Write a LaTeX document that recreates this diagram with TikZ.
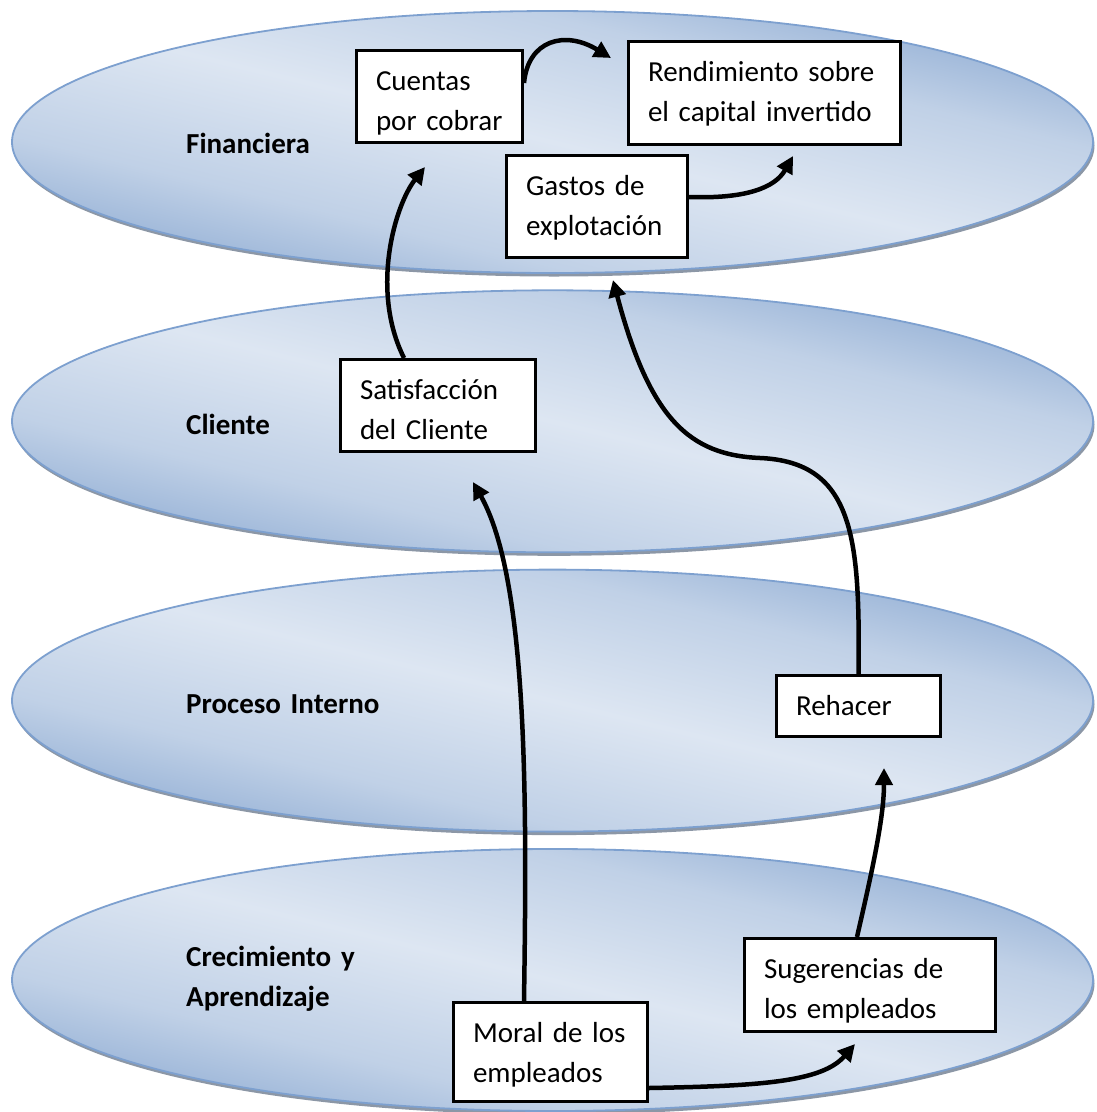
\documentclass[tikz,border=0pt]{standalone}
\usepackage{fontspec}
\setmainfont{Carlito}
\usetikzlibrary{arrows.meta,calc}

\definecolor{ellDark}{RGB}{163,187,219}
\definecolor{ellLight}{RGB}{221,230,242}
\definecolor{ellEdge}{RGB}{125,160,207}
\definecolor{ellShadow}{RGB}{140,151,166}
\colorlet{ellMid}{ellDark!50!ellLight}

% dark - light - dark band used to fill the four perspective layers
\pgfdeclareverticalshading{layerband}{100bp}{%
  color(0bp)=(ellDark); color(25bp)=(ellDark); color(33bp)=(ellMid);
  color(50bp)=(ellLight); color(67bp)=(ellMid);
  color(75bp)=(ellDark); color(100bp)=(ellDark)}

\begin{document}
\begin{tikzpicture}[x=1pt,y=-1pt,
  every node/.style={font=\fontsize{29}{40.5}\selectfont},
  layershadow/.style={fill=ellShadow},
  layeredge/.style={draw=ellEdge, line width=1.8pt},
  box/.style={draw=black, line width=3pt, fill=white, inner xsep=19.5pt,
    inner ysep=0pt, align=left, text height=39.5pt},
  lab/.style={font=\fontsize{29}{40.5}\selectfont\bfseries, anchor=base west,
    inner sep=0pt, align=left, text width=260pt},
  link/.style={line width=4.5pt, -{Triangle[length=17pt,width=17pt]}}
]
\useasboundingbox (0,0) rectangle (1096,1112);

% the four perspective layers: shadow, diagonal band fill, rim
\foreach \n/\cy in {fin/142, cli/421.3, pro/700.6, cre/980}{
  \coordinate (\n) at (552.5,\cy);
  \fill[layershadow] ($(\n)+(1.5,3.5)$) ellipse [x radius=540.5pt, y radius=131pt];
  \begin{scope}
    \clip (\n) ellipse [x radius=540.5pt, y radius=131pt];
    \begin{scope}[transform canvas={shift={(\n)}, xscale=540.5, yscale=131}]
      \shade[shading=layerband, shading angle=-45] (-1,-1) rectangle (1,1);
    \end{scope}
  \end{scope}
  \path[layeredge] (\n) ellipse [x radius=540.5pt, y radius=131pt];
}

% layer titles
\node[lab] (lfin) at (186,153) {Financiera};
\node[lab] (lcli) at (186,434) {Cliente};
\node[lab] (lpro) at (186,713) {Proceso Interno};
\node[lab] (lcre) at (186,966) {Crecimiento y\\Aprendizaje};

% indicators
\node[box, minimum width=166pt, text width=127pt, text depth=52.5pt] (cuentas) at (439.5,96.5) {Cuentas\\por cobrar};
\node[box, minimum width=272pt, text width=233pt, text depth=63.5pt] (rend) at (764.5,93) {Rendimiento sobre\\el capital invertido};
\node[box, minimum width=181pt, text width=142pt, text depth=62.5pt] (gastos) at (597,206.5) {Gastos de\\explotación};
\node[box, minimum width=195pt, text width=156pt, text depth=52.5pt] (satisf) at (438,405.5) {Satisfacción\\del Cliente};
\node[box, minimum width=164pt, text width=125pt, text depth=21.5pt] (rehacer) at (858.5,706) {Rehacer};
\node[box, minimum width=251pt, text width=212pt, text depth=53.5pt] (suger) at (870,985) {Sugerencias de\\los empleados};
\node[box, minimum width=194pt, text width=155pt, text depth=59.5pt] (moral) at (550.5,1052) {Moral de los\\empleados};

% cause-and-effect links
\draw[link] ($(cuentas.east)+(0,-13.5)$) .. controls +(4,-43) and +(-46,-28) .. ($(rend.west)+(-16,-35)$);
\draw[link] ($(gastos.east)+(0,-9.5)$) .. controls +(56,2) and +(-18,32) .. ($(rend.south)+(28.5,10)$);
\draw[link] ($(satisf.north)+(-34,0)$) .. controls +(-34,-68) and +(-30,38) .. ($(cuentas.south)+(-14.5,23)$);
\draw[link] (rehacer.north) .. controls +(1.5,-134) and +(95,4) .. (760,458)
  .. controls +(-70,-3) and +(37,140) .. ($(gastos.south)+(16,21)$);
\draw[link] ($(moral.north)+(-26.5,0)$) .. controls +(3,-201) and +(55,98) .. ($(satisf.south)+(35,29)$);
\draw[link] ($(moral.east)+(0,36)$) .. controls +(111,-2) and +(-33,38) .. ($(suger.south)+(-15,11)$);
\draw[link] ($(suger.north)+(-13,0)$) .. controls +(13,-57) and +(0,52) .. ($(rehacer.south)+(25.5,30)$);
\end{tikzpicture}
\end{document}
